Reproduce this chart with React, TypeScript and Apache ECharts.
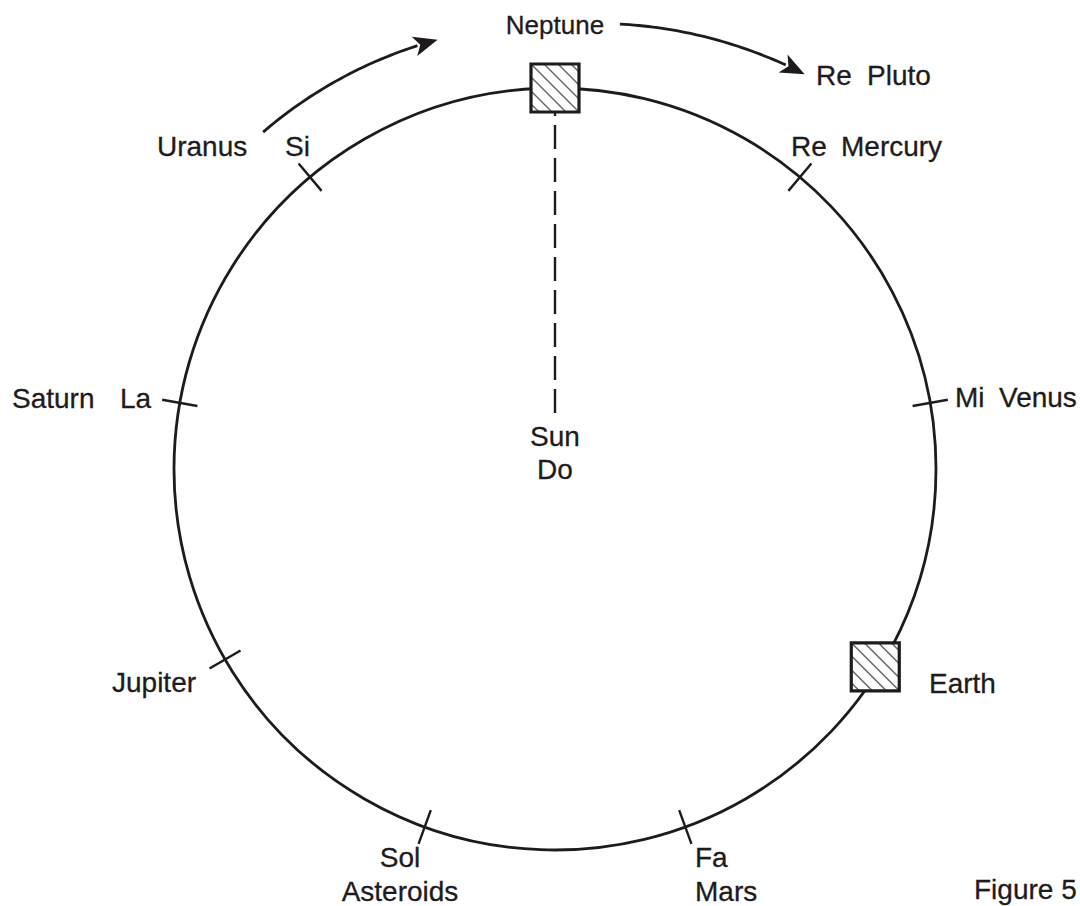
import React, { useEffect, useRef } from "react";
import * as echarts from "echarts";

// ---- data ----
// tick marks on the orbit circle (angle in degrees, clockwise from top)
const tickAngles = [40, 80, 160, 200, 240, 280, 320];
// hatched squares: [radius, angle]
const squareStations = [
  [1, 0],
  [0.988, 121.7],
];
// dashed radius from Sun towards Neptune: [radius, angle]
const dashedLine = [
  [0.147, 0],
  [0.937, 0],
];
// curved arrows: [r0, a0, r1, a1] (tip at r1, a1)
const arrows = [
  [1.17, 319.1, 1.168, 344.7],
  [1.18, 8.3, 1.226, 32.3],
];
// labels
const labelTexts = [
  "Neptune",
  "Re", "Pluto",
  "Uranus", "Si",
  "Re", "Mercury",
  "Saturn", "La",
  "Mi", "Venus",
  "Sun", "Do",
  "Earth",
  "Jupiter",
  "Sol", "Asteroids",
  "Fa", "Mars",
  "Figure 5",
];

// ---- layout (x, baseline y, align, fontSize) ----
const labelLayout: [number, number, string, number][] = [
  [555, 34, "center", 26],
  [816, 85, "left", 28], [867, 85, "left", 28],
  [157, 156, "left", 28], [285, 156, "left", 28],
  [791, 156, "left", 28], [841, 156, "left", 28],
  [12, 408, "left", 28], [120, 408, "left", 28],
  [955, 407, "left", 28], [999, 407, "left", 28],
  [555, 446, "center", 28], [555, 479, "center", 28],
  [929, 693, "left", 28],
  [112, 692, "left", 28],
  [400, 867, "center", 28], [400, 901, "center", 28],
  [695, 867, "left", 28], [695, 901, "left", 28],
  [974, 899, "left", 28],
];

const INK = "#1f1b1c";
const FONT = '"Liberation Sans", Arial, Helvetica, sans-serif';

export default function App() {
  const ref = useRef<HTMLDivElement>(null);
  useEffect(() => {
    if (!ref.current) return;
    const chart = echarts.init(ref.current, undefined, { renderer: "svg" });

    const graphics = labelTexts.map((t, i) => {
      const [x, yb, align, fs] = labelLayout[i];
      return {
        type: "text",
        x,
        y: yb - fs * 0.3465,
        style: {
          text: t,
          fill: INK,
          font: `${fs}px ${FONT}`,
          textAlign: align,
          textVerticalAlign: "middle",
          stroke: INK,
          lineWidth: 0.3,
        },
      };
    });

    const SQ = 48;
    const hatchOffsets = [-40, -27, -13, 0, 13, 27, 40];

    chart.setOption({
      animation: false,
      backgroundColor: "#ffffff",
      polar: { center: [555, 469], radius: 381 },
      angleAxis: {
        type: "value",
        min: 0,
        max: 360,
        startAngle: 90,
        clockwise: true,
        axisLine: { show: true, lineStyle: { color: INK, width: 2.8 } },
        axisTick: { show: false },
        axisLabel: { show: false },
        splitLine: { show: false },
      },
      radiusAxis: {
        type: "value",
        min: 0,
        max: 1,
        axisLine: { show: false },
        axisTick: { show: false },
        axisLabel: { show: false },
        splitLine: { show: false },
      },
      series: [
        {
          type: "custom",
          coordinateSystem: "polar",
          clip: false,
          data: tickAngles.map((a) => [1, a]),
          renderItem: (params: any, api: any) => {
            const a = api.value(1);
            const p1 = api.coord([1 - 0.047, a]);
            const p2 = api.coord([1 + 0.047, a]);
            return {
              type: "line",
              shape: { x1: p1[0], y1: p1[1], x2: p2[0], y2: p2[1] },
              style: { stroke: INK, lineWidth: 2.4 },
            };
          },
        },
        {
          type: "line",
          coordinateSystem: "polar",
          data: dashedLine,
          symbol: "none",
          silent: true,
          lineStyle: { color: INK, width: 2.4, type: [24, 9] },
        },
        {
          type: "custom",
          coordinateSystem: "polar",
          clip: false,
          data: squareStations,
          renderItem: (params: any, api: any) => {
            const c = api.coord([api.value(0), api.value(1)]);
            const x0 = c[0] - SQ / 2;
            const y0 = c[1] - SQ / 2;
            const children: any[] = [
              {
                type: "rect",
                shape: { x: x0, y: y0, width: SQ, height: SQ },
                style: { fill: "#ffffff", stroke: "none" },
              },
            ];
            hatchOffsets.forEach((off) => {
              const u1 = Math.max(0, off);
              const u2 = Math.min(SQ, SQ + off);
              children.push({
                type: "line",
                shape: { x1: x0 + u1, y1: y0 + u1 - off, x2: x0 + u2, y2: y0 + u2 - off },
                style: { stroke: "#666666", lineWidth: 1.5 },
              });
            });
            children.push({
              type: "rect",
              shape: { x: x0, y: y0, width: SQ, height: SQ },
              style: { fill: "none", stroke: INK, lineWidth: 3.2 },
            });
            return { type: "group", children };
          },
        },
        {
          type: "custom",
          coordinateSystem: "polar",
          clip: false,
          data: arrows,
          renderItem: (params: any, api: any) => {
            const r0 = api.value(0), a0 = api.value(1), r1 = api.value(2), a1 = api.value(3);
            const N = 40;
            const pts: number[][] = [];
            for (let k = 0; k <= N; k++) {
              const t = k / N;
              pts.push(api.coord([r0 + (r1 - r0) * t, a0 + (a1 - a0) * t]));
            }
            const tip = pts[N];
            const prev = pts[N - 3];
            const dx = tip[0] - prev[0];
            const dy = tip[1] - prev[1];
            const len = Math.sqrt(dx * dx + dy * dy);
            const ux = dx / len, uy = dy / len;
            const HL = 24, HW = 10;
            const bx = tip[0] - ux * HL, by = tip[1] - uy * HL;
            const shaft: number[][] = [];
            for (let k = 0; k <= N; k++) {
              const p = pts[k];
              const proj = (p[0] - bx) * ux + (p[1] - by) * uy;
              if (proj < 2) shaft.push(p);
            }
            shaft.push([bx + ux * 3, by + uy * 3]);
            return {
              type: "group",
              children: [
                {
                  type: "polyline",
                  shape: { points: shaft },
                  style: { stroke: INK, lineWidth: 2.8, fill: "none" },
                },
                {
                  type: "polygon",
                  shape: {
                    points: [
                      tip,
                      [bx - uy * HW, by + ux * HW],
                      [bx + ux * 6, by + uy * 6],
                      [bx + uy * HW, by - ux * HW],
                    ],
                  },
                  style: { fill: INK, stroke: "none" },
                },
              ],
            };
          },
        },
      ],
      graphic: { elements: graphics },
    });

    return () => chart.dispose();
  }, []);

  return (
    <div
      ref={ref}
      style={{ position: "absolute", left: 0, top: 0, width: 1080, height: 906, background: "#fff" }}
    />
  );
}
